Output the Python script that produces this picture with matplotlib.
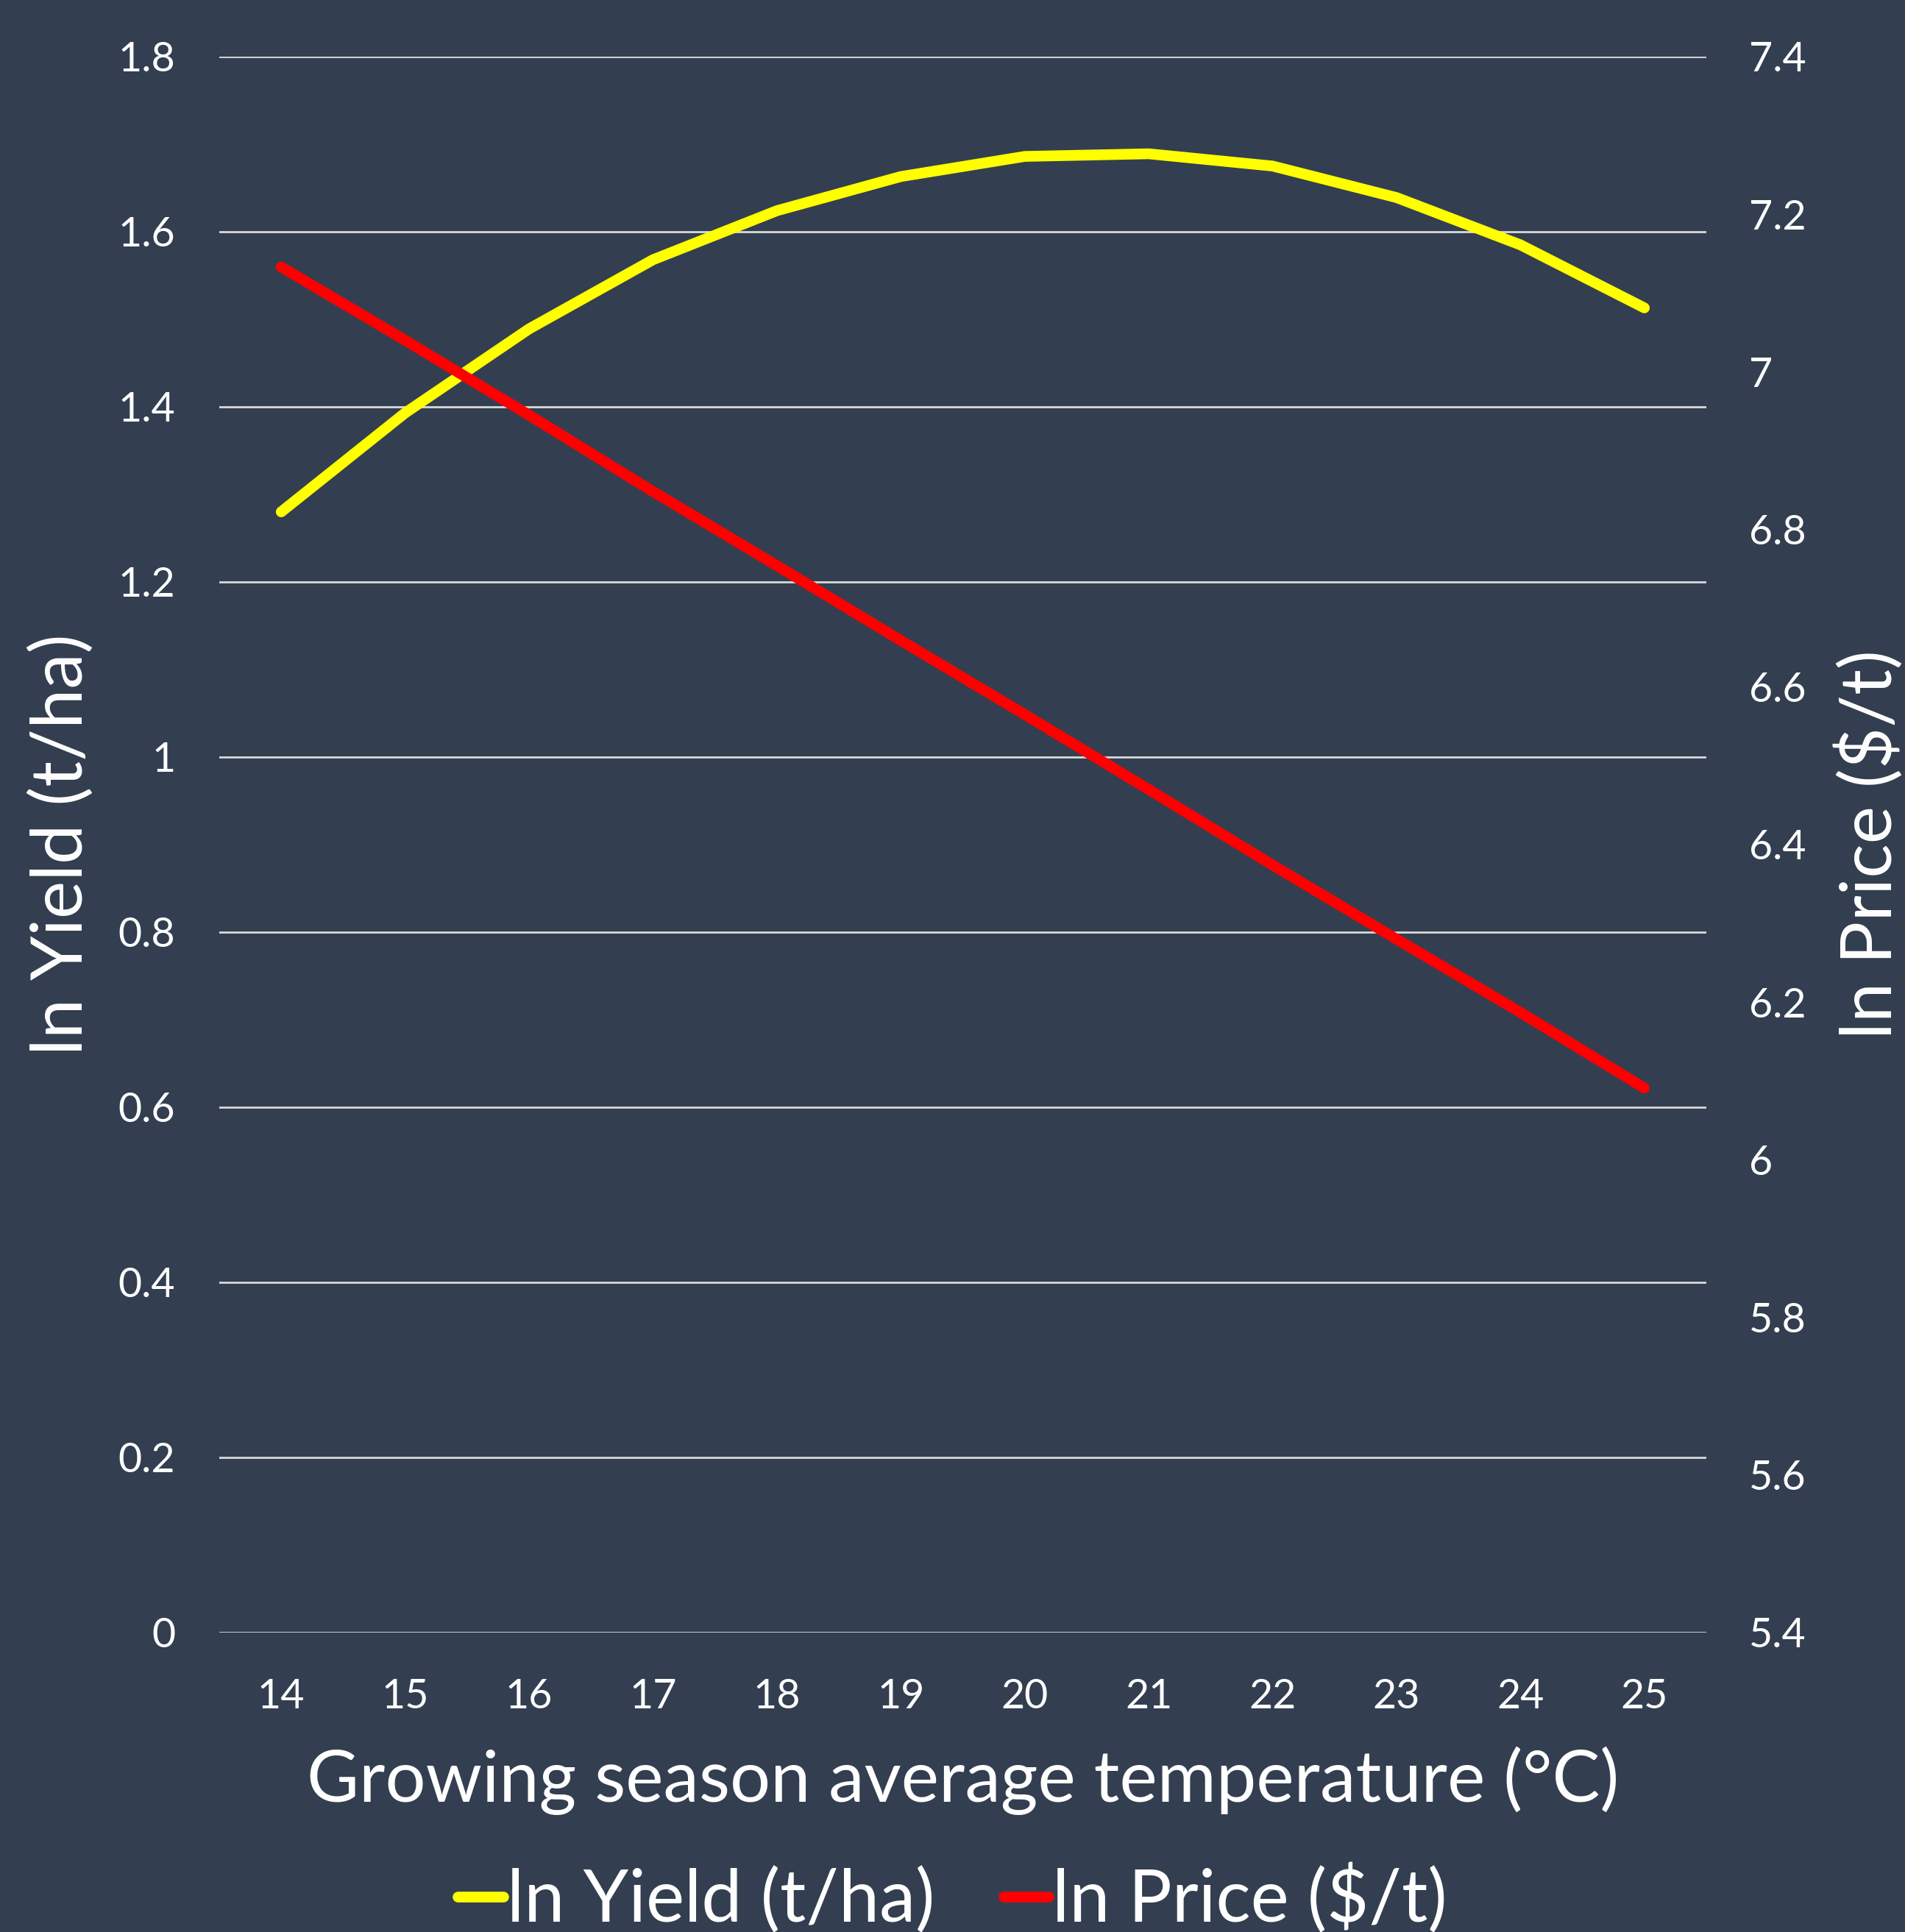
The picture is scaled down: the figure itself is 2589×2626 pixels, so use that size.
import numpy as np
import matplotlib; matplotlib.use("Agg")
import matplotlib.pyplot as plt
from matplotlib.ticker import FixedLocator, FuncFormatter

# data
temps = [14, 15, 16, 17, 18, 19, 20, 21, 22, 23, 24, 25]
ln_yield = [1.280, 1.393, 1.489, 1.568, 1.624, 1.663, 1.686, 1.689, 1.675, 1.639, 1.585, 1.513]
ln_price = [7.133, 7.040, 6.945, 6.848, 6.754, 6.659, 6.565, 6.470, 6.374, 6.280, 6.187, 6.091]
yield_ticks = [0, 0.2, 0.4, 0.6, 0.8, 1.0, 1.2, 1.4, 1.6, 1.8]
price_ticks = [5.4, 5.6, 5.8, 6.0, 6.2, 6.4, 6.6, 6.8, 7.0, 7.2, 7.4]

BG = "#333F50"
FG = "white"
plt.rcParams["font.family"] = ["Lato", "DejaVu Sans"]

def fmt(v, _):
    return f"{v:g}"

fig, ax = plt.subplots(figsize=(25.89, 26.26), dpi=100)
fig.patch.set_facecolor(BG)
ax.set_facecolor(BG)
fig.subplots_adjust(left=0.1151, right=0.8957, top=0.9707, bottom=0.155)

ax2 = ax.twinx()

l1, = ax.plot(temps, ln_yield, color="#FFFF00", lw=10.5, solid_capstyle="round",
              solid_joinstyle="round", label="ln Yield (t/ha)", zorder=3)
l2, = ax2.plot(temps, ln_price, color="#FF0000", lw=10.5, solid_capstyle="round",
               solid_joinstyle="round", label="ln Price ($/t)", zorder=3)

ax.set_xlim(13.5, 25.5)
ax.set_ylim(0, 1.8)
ax2.set_ylim(5.4, 7.4)
ax.xaxis.set_major_locator(FixedLocator(temps))
ax.yaxis.set_major_locator(FixedLocator(yield_ticks))
ax2.yaxis.set_major_locator(FixedLocator(price_ticks))
ax.yaxis.set_major_formatter(FuncFormatter(fmt))
ax2.yaxis.set_major_formatter(FuncFormatter(fmt))

# gridlines only from the left axis, both scales share them
ax.grid(axis="y", color="#D9D9D9", lw=2.0, zorder=1)
ax.set_axisbelow(True)
for a in (ax, ax2):
    for s in a.spines.values():
        s.set_visible(False)
ax.tick_params(axis="both", length=0, colors=FG, labelsize=40)
ax.tick_params(axis="y", pad=43)
ax.tick_params(axis="x", pad=45)
ax2.tick_params(axis="y", length=0, colors=FG, labelsize=40, pad=42)

ax.set_xlabel("Growing season average temperature (°C)", color=FG, fontsize=70, labelpad=30)
ax.set_ylabel("ln Yield (t/ha)", color=FG, fontsize=70, va="center")
ax2.set_ylabel("ln Price ($/t)", color=FG, fontsize=70, va="center", rotation=90)
ax.yaxis.set_label_coords(-0.106, 0.5)
ax2.yaxis.set_label_coords(1.11, 0.5)

leg = fig.legend(handles=[l1, l2], loc="center", bbox_to_anchor=(0.5, 0.017),
                 ncol=2, frameon=False, fontsize=71, handlelength=0.62,
                 handletextpad=0.05, columnspacing=0.95, labelcolor=FG)

fig.savefig("out.png", dpi=100, facecolor=BG)
